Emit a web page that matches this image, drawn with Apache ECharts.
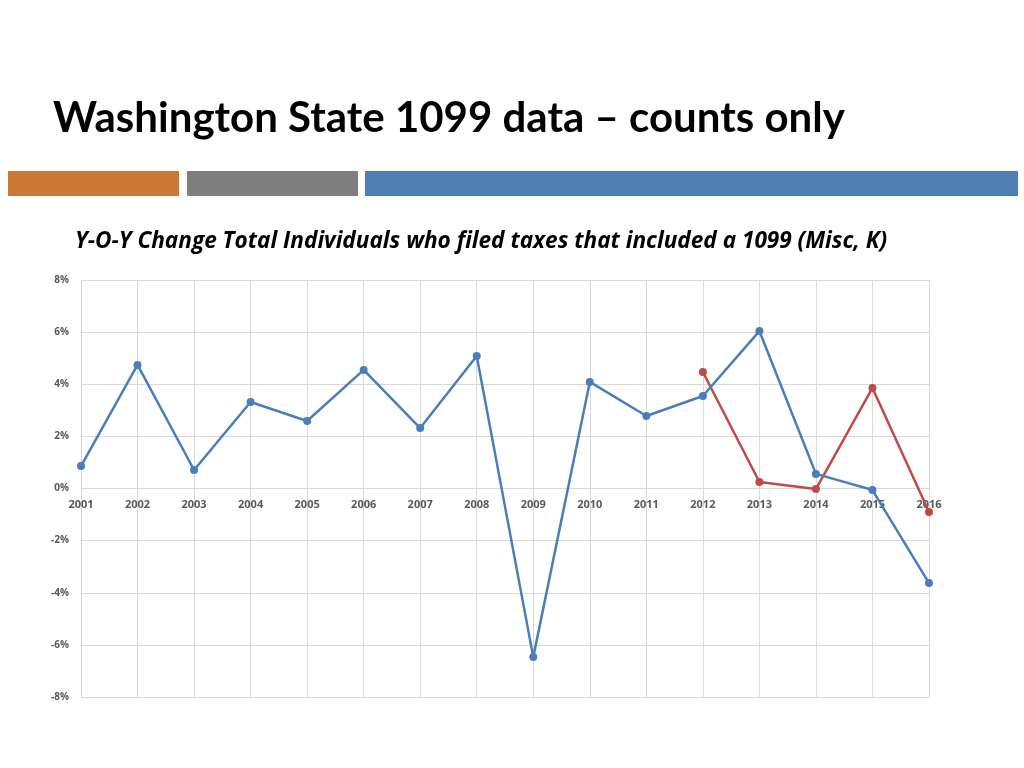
<!DOCTYPE html>
<html><head><meta charset="utf-8">
<script src="https://cdn.jsdelivr.net/npm/echarts@6/dist/echarts.min.js"></script>
<style>html,body{margin:0;padding:0;background:#fff}#c{width:1024px;height:768px}</style>
</head><body><div id="c"></div>
<script>
const years = ['2001','2002','2003','2004','2005','2006','2007','2008','2009','2010','2011','2012','2013','2014','2015','2016'];
const blueSeries = [0.86,4.74,0.71,3.32,2.59,4.55,2.32,5.08,-6.47,4.09,2.78,3.55,6.04,0.56,-0.06,-3.63];
const redSeries = [null,null,null,null,null,null,null,null,null,null,null,4.47,0.25,-0.02,3.86,-0.90];
const yTicks = {min:-8, max:8, interval:2};

const chart = echarts.init(document.getElementById('c'));
chart.setOption({
  animation:false,
  backgroundColor:'#fff',
  graphic:[
    {type:'text', left:53, top:97, style:{text:'Washington State 1099 data – counts only', font:'bold 42px Lato, "Open Sans", sans-serif', fill:'#000'}},
    {type:'rect', shape:{x:8,y:171,width:171,height:25}, style:{fill:'#CC7733'}},
    {type:'rect', shape:{x:187,y:171,width:171,height:25}, style:{fill:'#7F7F7F'}},
    {type:'rect', shape:{x:365,y:171,width:653,height:25}, style:{fill:'#4F7FB3'}},
    {type:'text', left:75, top:230, style:{text:'Y-O-Y Change Total Individuals who filed taxes that included a 1099 (Misc, K)', font:'italic bold 22.6px "Open Sans", sans-serif', fill:'#000'}}
  ],
  grid:{left:81, right:95, top:280, bottom:71},
  xAxis:{type:'category', data:years, boundaryGap:false, position:'bottom', offset:-208.5,
    axisLine:{onZero:false, lineStyle:{color:'#D9D9D9', width:1}},
    axisTick:{show:false},
    axisLabel:{color:'#595959', fontSize:11, fontWeight:'bold', fontFamily:'"Open Sans", sans-serif', margin:11},
    splitLine:{show:true, lineStyle:{color:'#D9D9D9'}}
  },
  yAxis:{type:'value', min:yTicks.min, max:yTicks.max, interval:yTicks.interval,
    axisLine:{show:true, lineStyle:{color:'#D9D9D9'}},
    axisTick:{show:false},
    axisLabel:{formatter:'{value}%', color:'#595959', fontSize:10, fontWeight:'bold', fontFamily:'"Open Sans", sans-serif', margin:12},
    splitLine:{lineStyle:{color:'#D9D9D9'}}
  },
  series:[
    {type:'line', data:blueSeries, symbol:'circle', symbolSize:8, itemStyle:{color:'#4A7EBB'}, lineStyle:{color:'#4A7EBB', width:2.5}, z:3},
    {type:'line', data:redSeries, symbol:'circle', symbolSize:8, itemStyle:{color:'#BE4B48'}, lineStyle:{color:'#BE4B48', width:2.5}, z:2}
  ]
});
</script></body></html>
